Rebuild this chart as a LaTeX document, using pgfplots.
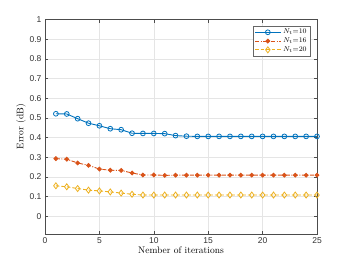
\documentclass[border=0pt]{standalone}
\usepackage{fontspec}
\usepackage{pgfplots}
\pgfplotsset{compat=1.18}
\newfontfamily\ticksf{Liberation Sans}
\definecolor{mblue}{rgb}{0,0.447,0.741}
\definecolor{mred}{rgb}{0.85,0.325,0.098}
\definecolor{myellow}{rgb}{0.929,0.694,0.125}
\begin{document}
\begin{tikzpicture}[x=1pt,y=1pt]
\useasboundingbox (0,0) rectangle (350,263);
\begin{axis}[
  at={(45pt,29pt)}, anchor=south west,
  scale only axis, width=272pt, height=214.5pt,
  xmin=0, xmax=25, ymin=-0.09, ymax=1,
  xtick={0,5,10,15,20,25},
  ytick={0,0.1,0.2,0.3,0.4,0.5,0.6,0.7,0.8,0.9,1},
  grid=major,
  major grid style={draw=black!10, line width=0.4pt},
  axis line style={draw=black!70, line width=0.5pt},
  tick style={draw=black!70, line width=0.4pt},
  major tick length=3pt,
  tick align=inside,
  /pgf/number format/assume math mode=true,
  tick label style={font=\ticksf\fontsize{8.5}{10}\selectfont, text=black!80},
  yticklabel style={/pgf/number format/fixed},
  xlabel={Nember of iterations},
  ylabel={Error (dB)},
  label style={font=\fontsize{9.5}{11}\selectfont},
  xlabel style={yshift=4pt},
  ylabel style={yshift=-3pt},
  legend style={at={(0.974,0.97)}, anchor=north east, font=\fontsize{7}{8}\selectfont,
    draw=black!60, line width=0.4pt, inner sep=1pt, row sep=-1.5pt},
  legend cell align=left,
  legend image code/.code={\draw[mark repeat=2,mark phase=2] plot coordinates {(0cm,0cm) (0.45cm,0cm) (0.9cm,0cm)};},
]
\addplot[mblue, line width=0.9pt, mark=o, mark size=2.4pt, mark options={solid, line width=0.8pt}] coordinates {
(1,0.521)(2,0.520)(3,0.496)(4,0.473)(5,0.460)(6,0.445)(7,0.440)(8,0.422)(9,0.421)(10,0.421)(11,0.420)(12,0.410)(13,0.407)(14,0.406)(15,0.406)(16,0.406)(17,0.406)(18,0.406)(19,0.406)(20,0.406)(21,0.406)(22,0.406)(23,0.406)(24,0.406)(25,0.406)};
\addlegendentry{$N_{\mathrm{t}}{=}10$}
\addplot[mred, line width=0.9pt, dash pattern=on 4pt off 1.5pt on 1pt off 1.5pt, mark=*, mark size=1.9pt, mark options={solid}] coordinates {
(1,0.293)(2,0.290)(3,0.271)(4,0.259)(5,0.240)(6,0.234)(7,0.233)(8,0.220)(9,0.210)(10,0.210)(11,0.208)(12,0.209)(13,0.209)(14,0.209)(15,0.209)(16,0.209)(17,0.209)(18,0.209)(19,0.209)(20,0.209)(21,0.209)(22,0.209)(23,0.209)(24,0.209)(25,0.209)};
\addlegendentry{$N_{\mathrm{t}}{=}16$}
\addplot[myellow, line width=0.9pt, dash pattern=on 3.5pt off 2pt, mark=diamond, mark size=3pt, mark options={solid, line width=0.8pt}] coordinates {
(1,0.155)(2,0.150)(3,0.141)(4,0.133)(5,0.129)(6,0.124)(7,0.118)(8,0.112)(9,0.108)(10,0.108)(11,0.108)(12,0.108)(13,0.108)(14,0.108)(15,0.108)(16,0.108)(17,0.108)(18,0.108)(19,0.108)(20,0.108)(21,0.108)(22,0.108)(23,0.108)(24,0.108)(25,0.108)};
\addlegendentry{$N_{\mathrm{t}}{=}20$}
\end{axis}
\end{tikzpicture}
\end{document}
